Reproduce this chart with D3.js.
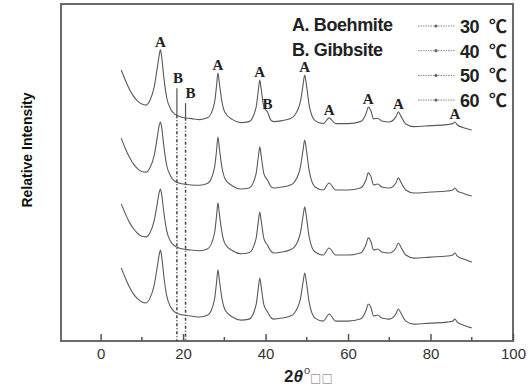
<!DOCTYPE html>
<html>
<head>
<meta charset="utf-8">
<script src="https://cdn.jsdelivr.net/npm/d3@7/dist/d3.min.js"></script>
<style>
  html, body { margin: 0; padding: 0; background: #fff; }
  svg { display: block; }
</style>
</head>
<body>
<div id="chart"></div>
<script>
// 2theta grid shared by the four patterns
const twoTheta = [5,6,7,8,9,10,11,12,13,13.7, 14.2,14.5,14.8,15.3,16,17,18,19,20,22,
  24,26,27.6,28.1,28.45,28.8,29.4,30.2,32,34, 36,37.7,38.25,38.6,38.95,39.6,40.5,41.2,42,44,
  46,47,48.5,49.1,49.5,49.9,50.6,52,54,55.4, 57,60,63,64.4,64.9,65.5,66.2,67.2,68.2,70,
  71.6,72.2,72.8,74,76,80,84,85.4,85.9,86.5, 88,90];

// relative intensity (a.u.) of each pattern
const i30 = [21.9,18.9,16.2,14.1,12.7,11.8,11.5,13.0,16.9,22.2, 26.2,27.9,26.0,20.1,13.9,10.3,8.8,8.2,7.8,7.5,
  7.2,7.8,12.1,17.0,21.0,18.0,12.7,9.2,7.2,6.3, 6.6,10.8,15.9,18.9,16.2,10.9,9.4,7.2,6.6,6.9,
  7.5,8.4,12.8,17.6,20.4,17.6,11.3,6.9,6.0,7.7, 6.0,6.0,6.6,9.1,10.9,10.0,7.4,7.6,6.8,6.5,
  8.0,9.5,8.3,5.9,5.1,5.4,5.7,6.0,6.5,5.6, 4.8,4.1];
const i40 = [21.2,18.1,15.5,13.5,12.1,11.3,11.1,12.5,16.1,21.1, 24.9,26.0,24.5,19.2,13.3,9.9,8.4,7.9,7.6,7.3,
  7.2,7.8,12.3,17.3,21.5,18.2,12.7,9.1,7.0,6.1, 6.4,10.6,15.6,18.6,15.9,10.6,8.7,7.0,6.4,6.7,
  7.3,8.2,12.9,17.8,20.6,17.7,11.4,6.7,5.8,7.9, 5.8,5.8,6.4,9.0,10.9,10.0,7.3,7.6,6.7,6.4,
  7.9,9.4,8.2,5.8,4.9,5.2,5.5,5.8,6.4,5.5, 4.8,4.0];
const i50 = [21.2,18.3,15.7,13.8,12.4,11.6,11.4,12.7,16.2,21.0, 24.5,25.6,24.1,19.0,13.4,10.0,8.7,8.1,7.8,7.5,
  7.3,7.9,12.4,17.4,21.5,18.3,12.9,9.3,7.3,6.4, 6.7,10.9,15.9,18.8,16.1,10.9,8.9,7.3,6.6,6.9,
  7.6,8.4,12.9,17.6,20.3,17.4,11.2,6.9,6.0,8.1, 6.0,6.0,6.6,9.3,11.1,10.2,7.5,7.8,6.9,6.6,
  8.1,9.6,8.4,6.0,5.1,5.4,5.7,6.0,6.6,5.7, 4.8,3.9];
const i60 = [21.7,18.7,16.0,13.9,12.5,11.6,11.3,12.8,16.6,21.7, 25.5,27.0,25.2,19.6,13.6,10.1,8.6,8.0,7.7,7.4,
  7.1,7.7,12.2,17.2,21.1,18.1,12.8,9.2,7.1,6.2, 6.5,10.7,15.7,18.7,16.0,10.7,8.6,7.1,6.5,6.8,
  7.4,8.3,12.8,17.5,20.2,17.5,11.3,6.8,5.9,8.0, 5.9,5.9,6.5,9.2,11.0,10.1,7.4,7.7,6.8,6.5,
  8.0,9.5,8.3,5.9,5.0,5.3,5.6,5.9,6.5,5.6, 4.7,3.9];

const seriesNames = ['30', '40', '50', '60'];
const seriesValues = [i30, i40, i50, i60];
const seriesOffsets = [58.5, 39, 19.5, 0];

// phase labels over the top pattern
const peakLabels = ['A', 'A', 'A', 'B', 'A', 'A', 'A', 'A', 'A'];
const peakPositions = [14.5, 28.45, 38.6, 40.5, 49.5, 55.4, 64.9, 72.2, 85.9];

// gibbsite marker lines (2theta, top intensity, label position)
const gibbsitePos = [18.5, 20.6];
const gibbsiteTop = [75, 70.6];
const gibbsiteLabelPos = [18.8, 21.8];

const phaseLegend = ['A. Boehmite', 'B. Gibbsite'];
const xTicks = [0, 20, 40, 60, 80, 100];

const W = 530, H = 387;
const margin = { top: 4, right: 17, bottom: 46, left: 61 };
const width = W - margin.left - margin.right;
const height = H - margin.top - margin.bottom;

const svg = d3.select('#chart').append('svg')
  .attr('width', W)
  .attr('height', H);

const g = svg.append('g')
  .attr('transform', `translate(${margin.left},${margin.top})`);

const xScale = d3.scaleLinear().domain([-9.6, 100]).range([0, width]);
const yScale = d3.scaleLinear().domain([0, 100]).range([height, 0]);

// frame
g.append('rect')
  .attr('x', 0).attr('y', 0)
  .attr('width', width).attr('height', height)
  .attr('fill', 'none')
  .attr('stroke', '#6a6a6a')
  .attr('stroke-width', 2);

// bottom axis, ticks inward
const xAxis = g.append('g')
  .attr('transform', `translate(0,${height})`)
  .call(d3.axisBottom(xScale).tickValues(xTicks).tickSize(-7).tickPadding(7).tickFormat(d3.format('d')));
xAxis.select('.domain').remove();
xAxis.selectAll('.tick line').attr('stroke', '#555').attr('stroke-width', 1.5);
xAxis.selectAll('.tick text')
  .attr('fill', '#333')
  .style('font-family', 'Liberation Sans, Arial, sans-serif')
  .style('font-size', '15px');

g.append('g')
  .attr('transform', `translate(0,${height})`)
  .selectAll('line')
  .data(d3.range(10, 100, 20))
  .enter().append('line')
  .attr('x1', d => xScale(d)).attr('x2', d => xScale(d))
  .attr('y1', 0).attr('y2', -4)
  .attr('stroke', '#555').attr('stroke-width', 1.5);

// value of the top pattern at a given 2theta
const topValue = x => {
  const i = d3.bisectLeft(twoTheta, x);
  const x0 = twoTheta[i - 1], x1 = twoTheta[i];
  const t = (x - x0) / (x1 - x0);
  return seriesOffsets[0] + i30[i - 1] + t * (i30[i] - i30[i - 1]);
};

// gibbsite marker lines
gibbsitePos.forEach((p, k) => {
  g.append('line')
    .attr('x1', xScale(p)).attr('x2', xScale(p))
    .attr('y1', yScale(gibbsiteTop[k])).attr('y2', yScale(topValue(p)))
    .attr('stroke', '#555').attr('stroke-width', 1.2);
  g.append('line')
    .attr('x1', xScale(p)).attr('x2', xScale(p))
    .attr('y1', yScale(topValue(p))).attr('y2', height)
    .attr('stroke', '#444').attr('stroke-width', 1.5)
    .attr('stroke-dasharray', '3,2,1,2');
  g.append('text')
    .attr('x', xScale(gibbsiteLabelPos[k]))
    .attr('y', yScale(gibbsiteTop[k]) - 5)
    .attr('text-anchor', 'middle')
    .style('font-family', 'Liberation Serif, Times New Roman, serif')
    .style('font-weight', 'bold')
    .style('font-size', '15px')
    .attr('fill', '#222')
    .text('B');
});

// patterns
const line = d3.line()
  .x(d => xScale(d[0]))
  .y(d => yScale(d[1]))
  .curve(d3.curveMonotoneX);

seriesValues.forEach((vals, k) => {
  const pts = twoTheta.map((t, i) => [t, vals[i] + seriesOffsets[k]]);
  g.append('path')
    .datum(pts)
    .attr('fill', 'none')
    .attr('stroke', '#5a5a5a')
    .attr('stroke-width', 1.1)
    .attr('d', line);
});

// peak labels
g.selectAll('.peak-label')
  .data(peakPositions)
  .enter().append('text')
  .attr('class', 'peak-label')
  .attr('x', d => xScale(d))
  .attr('y', d => yScale(topValue(d)) - 3)
  .attr('text-anchor', 'middle')
  .style('font-family', 'Liberation Serif, Times New Roman, serif')
  .style('font-weight', 'bold')
  .style('font-size', '15px')
  .attr('fill', '#222')
  .text((d, i) => peakLabels[i]);

// phase legend
phaseLegend.forEach((t, i) => {
  g.append('text')
    .attr('x', 231)
    .attr('y', 27 + i * 24.5)
    .style('font-family', 'Liberation Sans, Arial, sans-serif')
    .style('font-weight', 'bold')
    .style('font-size', '18px')
    .style('letter-spacing', '-0.4px')
    .attr('fill', '#222')
    .text(t);
});

// temperature legend
seriesNames.forEach((name, i) => {
  const ly = 22 + i * 24.7;
  g.append('line')
    .attr('x1', 357).attr('x2', 394)
    .attr('y1', ly).attr('y2', ly)
    .attr('stroke', '#888').attr('stroke-width', 1)
    .attr('stroke-dasharray', '1.5,1');
  g.append('circle')
    .attr('cx', 375).attr('cy', ly).attr('r', 1.6)
    .attr('fill', '#666');
  g.append('text')
    .attr('x', 399).attr('y', ly + 7)
    .style('font-family', 'Liberation Sans, Arial, sans-serif')
    .style('font-weight', 'bold')
    .style('font-size', '18px')
    .style('letter-spacing', '-0.5px')
    .attr('fill', '#222')
    .text(name);
  g.append('text')
    .attr('x', 428).attr('y', ly + 7)
    .style('font-family', 'Noto Sans CJK SC, sans-serif')
    .style('font-weight', 'bold')
    .style('font-size', '18px')
    .attr('fill', '#222')
    .text('℃');
});

// axis titles
svg.append('text')
  .attr('transform', 'translate(32,150) rotate(-90)')
  .attr('text-anchor', 'middle')
  .style('font-family', 'Liberation Sans, Arial, sans-serif')
  .style('font-weight', 'bold')
  .style('font-size', '14px')
  .attr('fill', '#111')
  .text('Relative Intensity');

const xt = svg.append('text')
  .attr('x', 284)
  .attr('y', 382)
  .style('font-family', 'Liberation Sans, Arial, sans-serif')
  .style('font-weight', 'bold')
  .style('font-size', '17px')
  .attr('fill', '#222');
xt.append('tspan').text('2');
xt.append('tspan').style('font-style', 'italic').text('θ');
xt.append('tspan').attr('dx', 1).attr('dy', -8).style('font-size', '11px').style('font-weight', 'normal').attr('fill', '#444').text('o');
xt.append('tspan').attr('dx', 0).attr('dy', 8).style('font-family', 'DejaVu Sans, sans-serif').style('font-size', '12px').style('font-weight', 'normal').attr('fill', '#999').text('□□');
</script>
</body>
</html>
